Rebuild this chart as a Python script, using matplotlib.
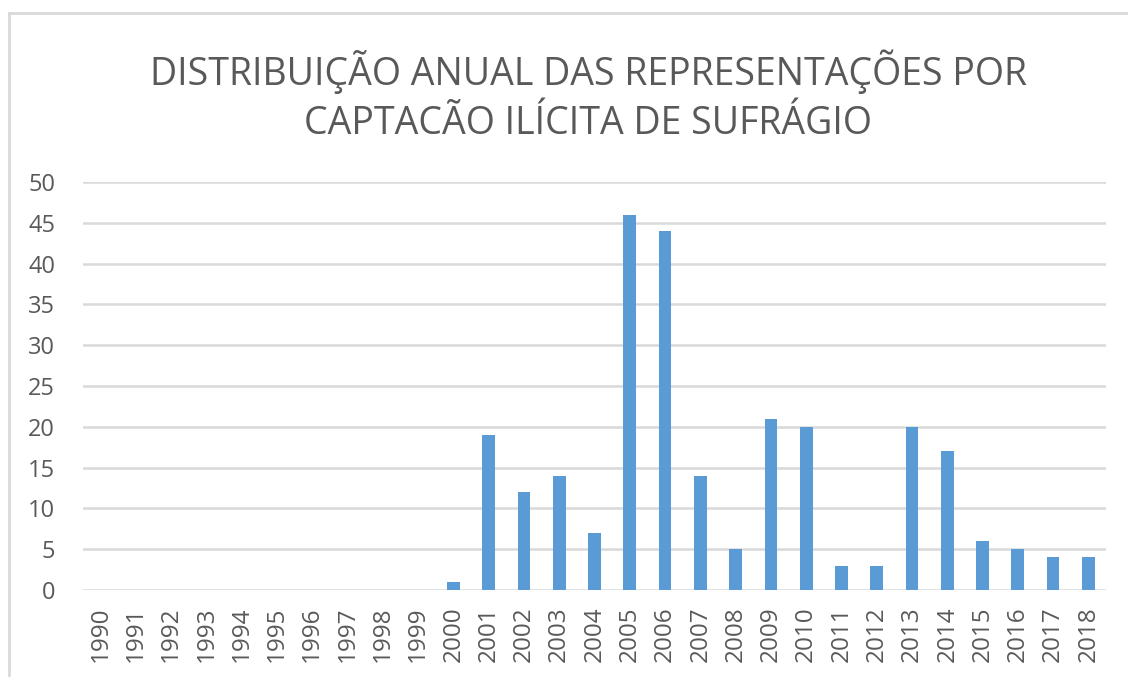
import matplotlib
matplotlib.use("Agg")
import matplotlib.pyplot as plt
from matplotlib.lines import Line2D

anos = [str(a) for a in range(1990, 2019)]
valores = [0, 0, 0, 0, 0, 0, 0, 0, 0, 0,
           1, 19, 12, 14, 7, 46, 44, 14, 5, 21,
           20, 3, 3, 20, 17, 6, 5, 4, 4]
titulo = "DISTRIBUIÇÃO ANUAL DAS REPRESENTAÇÕES POR\nCAPTACÃO ILÍCITA DE SUFRÁGIO"
yticks = list(range(0, 51, 5))

plt.rcParams['font.family'] = ['Open Sans', 'DejaVu Sans']
cinza = '#595959'

fig = plt.figure(figsize=(11.28, 6.77), dpi=100)
ax = fig.add_axes([83/1128, 1 - 590/677, (1106 - 83)/1128, (590 - 182)/677])

x = range(len(anos))
ax.bar(x, valores, width=0.36, color='#5B9BD5', zorder=3)

ax.set_xlim(-0.5, len(anos) - 0.5)
ax.set_ylim(0, 50)
ax.set_yticks(yticks)
ax.set_xticks(list(x))
ax.set_xticklabels(anos, rotation=90)
ax.tick_params(axis='both', length=0, labelcolor=cinza)
ax.tick_params(axis='y', pad=20, labelsize=17)
ax.tick_params(axis='x', pad=12, labelsize=17.5)
ax.grid(axis='y', color='#D9D9D9', linewidth=1.8, zorder=0)
for s in ax.spines.values():
    s.set_visible(False)

fig.text(588/1128, 1 - 96/677, titulo, ha='center', va='center',
         fontsize=27, color=cinza, linespacing=1.38)

# moldura do gráfico
fig.add_artist(Line2D([9/1128, 1], [1 - 13/677, 1 - 13/677], color='#D9D9D9', lw=2))
fig.add_artist(Line2D([9/1128, 9/1128], [0, 1 - 13/677], color='#D9D9D9', lw=2))

fig.savefig('out.png', dpi=100)
